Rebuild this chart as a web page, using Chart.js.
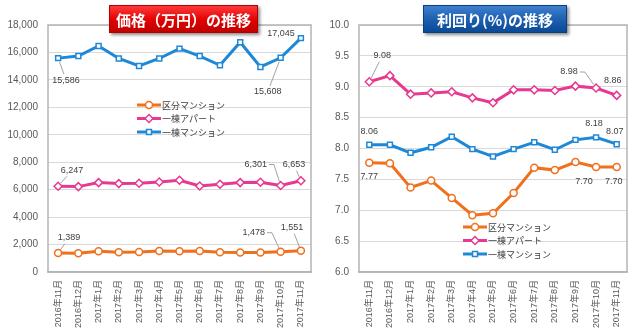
<!DOCTYPE html>
<html><head><meta charset="utf-8">
<script src="https://cdn.jsdelivr.net/npm/chart.js@4"></script>
<style>
body{margin:0;width:640px;height:335px;background:#fff;overflow:hidden;position:relative;font-family:"Noto Sans CJK JP",sans-serif}
canvas{position:absolute;top:0}
#c1{left:0}
#c2{left:320px}
.title{position:absolute;color:#fff;font-weight:bold;font-size:15px;line-height:28px;text-align:center;box-sizing:border-box;height:28px;top:5px;font-family:"Noto Sans CJK JP",sans-serif;box-shadow:2px 2px 3px rgba(0,0,0,0.45)}
#t1{left:109px;width:149px;background:linear-gradient(#ff3a3a,#e00000 55%,#c00000);border:1px solid #b00000}
#t2{left:423px;width:144px;background:linear-gradient(#3f7fcf,#1b5eae 55%,#0b4a96);border:1px solid #0a3f80}
</style></head>
<body>
<canvas id="c1" width="320" height="335"></canvas>
<canvas id="c2" width="320" height="335"></canvas>
<div class="title" id="t1">価格（万円）の推移</div>
<div class="title" id="t2">利回り(%)の推移</div>
<script>
const months = ["2016年11月","2016年12月","2017年1月","2017年2月","2017年3月","2017年4月","2017年5月","2017年6月","2017年7月","2017年8月","2017年9月","2017年10月","2017年11月"];
const seriesNames = ["区分マンション","一棟アパート","一棟マンション"];
const priceKubun   = [1389,1365,1510,1438,1462,1535,1510,1535,1438,1413,1413,1478,1551];
const priceApart   = [6247,6223,6514,6441,6466,6563,6684,6271,6393,6514,6538,6301,6653];
const priceMansion = [15586,15735,16475,15560,15017,15560,16278,15735,15066,16748,14943,15608,17045];
const yieldKubun   = [7.77,7.76,7.37,7.48,7.20,6.92,6.95,7.28,7.69,7.65,7.78,7.70,7.70];
const yieldApart   = [9.08,9.18,8.88,8.90,8.92,8.82,8.74,8.95,8.95,8.94,9.01,8.98,8.86];
const yieldMansion = [8.06,8.06,7.93,8.02,8.19,7.99,7.87,7.99,8.10,7.98,8.14,8.18,8.07];
const priceTicks = {min:0,max:18000,step:2000};
const yieldTicks = {min:6,max:10,step:0.5};

const COLORS = ["#f0701e","#e6398f","#1e88d8"];
const STYLES = ["circle","rectRot","rect"];
const RADII = [3.5,4,3.5];

function makeDatasets(arrs){
  return arrs.map((d,k)=>({
    label:seriesNames[k], data:d, borderColor:COLORS[k], backgroundColor:"#fff",
    borderWidth:3, pointStyle:STYLES[k], pointRadius:RADII[k], pointBorderWidth:1.5,
    pointBackgroundColor:"#fff", pointBorderColor:COLORS[k], tension:0
  }));
}

const overlay = {
  id:"overlay",
  beforeDatasetsDraw(chart){
    const a = chart.chartArea, ctx = chart.ctx;
    ctx.save();
    ctx.strokeStyle="#b4b4b4"; ctx.lineWidth=1.5;
    ctx.strokeRect(a.left, a.top, a.right-a.left, a.bottom-a.top);
    ctx.restore();
  },
  afterDatasetsDraw(chart, args, opts){
    const ctx = chart.ctx;
    ctx.save();
    // legend
    const L = opts.legend;
    ctx.font = '9px "Noto Sans CJK JP"';
    ctx.textBaseline="middle"; ctx.textAlign="left";
    chart.data.datasets.forEach((ds,k)=>{
      const y = L.y + k*L.gap;
      ctx.strokeStyle=ds.borderColor; ctx.lineWidth=3;
      ctx.beginPath(); ctx.moveTo(L.x,y); ctx.lineTo(L.x+24,y); ctx.stroke();
      ctx.fillStyle="#fff"; ctx.strokeStyle=ds.borderColor; ctx.lineWidth=1.5;
      Chart.helpers.drawPoint(ctx,{pointStyle:ds.pointStyle,radius:ds.pointRadius,rotation:0,borderWidth:1.5},L.x+12,y);
      ctx.fillStyle="#404040";
      ctx.fillText(ds.label, L.x+25, y+0.5);
    });
    // data labels
    ctx.font = '9px "Liberation Sans"';
    ctx.textAlign="center"; ctx.textBaseline="middle";
    opts.labels.forEach(l=>{
      const el = chart.getDatasetMeta(l.ds).data[l.i];
      const txt = opts.fmt(chart.data.datasets[l.ds].data[l.i]);
      const tx = el.x + l.dx, ty = el.y + l.dy;
      const w = ctx.measureText(txt).width;
      ctx.fillStyle="#404040";
      ctx.fillText(txt, tx, ty);
      if(l.line){
        ctx.strokeStyle="#8c8c8c"; ctx.lineWidth=0.8;
        ctx.beginPath();
        if(l.line==="elbow"){
          const sx = tx + w/2 + 2;
          ctx.moveTo(sx, ty); ctx.lineTo(sx+5, ty);
          const ddx = el.x-(sx+5), ddy = el.y-ty, d=Math.hypot(ddx,ddy);
          ctx.lineTo(el.x - ddx/d*4, el.y - ddy/d*4);
        } else {
          const ddx = tx-el.x, ddy = ty-el.y, d=Math.hypot(ddx,ddy);
          const ux=ddx/d, uy=ddy/d;
          // distance to text box edge
          const hw=w/2+2, hh=6;
          const t = Math.min(Math.abs(ux)>1e-6?hw/Math.abs(ux):1e9, Math.abs(uy)>1e-6?hh/Math.abs(uy):1e9);
          ctx.moveTo(el.x+ux*4, el.y+uy*4);
          ctx.lineTo(tx-ux*t, ty-uy*t);
        }
        ctx.stroke();
      }
    });
    ctx.restore();
  }
};

function makeChart(id, arrs, tk, yW, padRight, fmtTick, fmtLabel, legend, labels){
  return new Chart(document.getElementById(id),{
    type:"line",
    data:{labels:months, datasets:makeDatasets(arrs)},
    options:{
      responsive:false, animation:false,
      layout:{padding:{top:25,right:padRight,left:0,bottom:0}},
      plugins:{legend:{display:false},tooltip:{enabled:false},
        overlay:{legend:legend, labels:labels, fmt:fmtLabel}},
      scales:{
        x:{offset:true,
          grid:{display:false,drawTicks:false},
          border:{display:true,color:"#b4b4b4",width:1.5},
          ticks:{maxRotation:90,minRotation:90,autoSkip:false,padding:8,color:"#595959",
            font:{size:9,family:'"Liberation Sans","Noto Sans CJK JP"'}},
          afterFit:s=>{s.height=63;}
        },
        y:{min:tk.min,max:tk.max,
          grid:{color:"#d9d9d9",lineWidth:1,drawTicks:false},
          border:{display:false},
          ticks:{stepSize:tk.step,padding:10,color:"#595959",callback:fmtTick,
            font:{size:10,family:'"Liberation Sans"'}},
          afterFit:s=>{s.width=yW;}
        }
      }
    },
    plugins:[overlay]
  });
}

makeChart("c1",[priceKubun,priceApart,priceMansion],priceTicks,48,8,
  v=>v.toLocaleString("en-US"), v=>v.toLocaleString("en-US"),
  {x:137,y:105,gap:13.5},
  [
    {ds:2,i:0,dx:8,dy:22,line:true},
    {ds:2,i:11,dx:-13,dy:34,line:true},
    {ds:2,i:12,dx:-20,dy:-5,line:false},
    {ds:1,i:0,dx:14,dy:-16,line:true},
    {ds:1,i:11,dx:-25,dy:-21,line:"elbow"},
    {ds:1,i:12,dx:-7,dy:-16,line:true},
    {ds:0,i:0,dx:11,dy:-15,line:true},
    {ds:0,i:11,dx:-27,dy:-19,line:"elbow"},
    {ds:0,i:12,dx:-9,dy:-23,line:true}
  ]);

makeChart("c2",[yieldKubun,yieldApart,yieldMansion],yieldTicks,39,13,
  v=>v.toFixed(1), v=>v.toFixed(2),
  {x:143,y:227,gap:13.5},
  [
    {ds:1,i:0,dx:13,dy:-26,line:true},
    {ds:1,i:11,dx:-27,dy:-16,line:"elbow"},
    {ds:1,i:12,dx:-4,dy:-15,line:false},
    {ds:2,i:0,dx:0,dy:-13,line:false},
    {ds:2,i:11,dx:-2,dy:-14,line:false},
    {ds:2,i:12,dx:-2,dy:-13,line:false},
    {ds:0,i:0,dx:0,dy:14,line:false},
    {ds:0,i:11,dx:-12,dy:14,line:false},
    {ds:0,i:12,dx:-3,dy:14,line:false}
  ]);
</script>
</body></html>
